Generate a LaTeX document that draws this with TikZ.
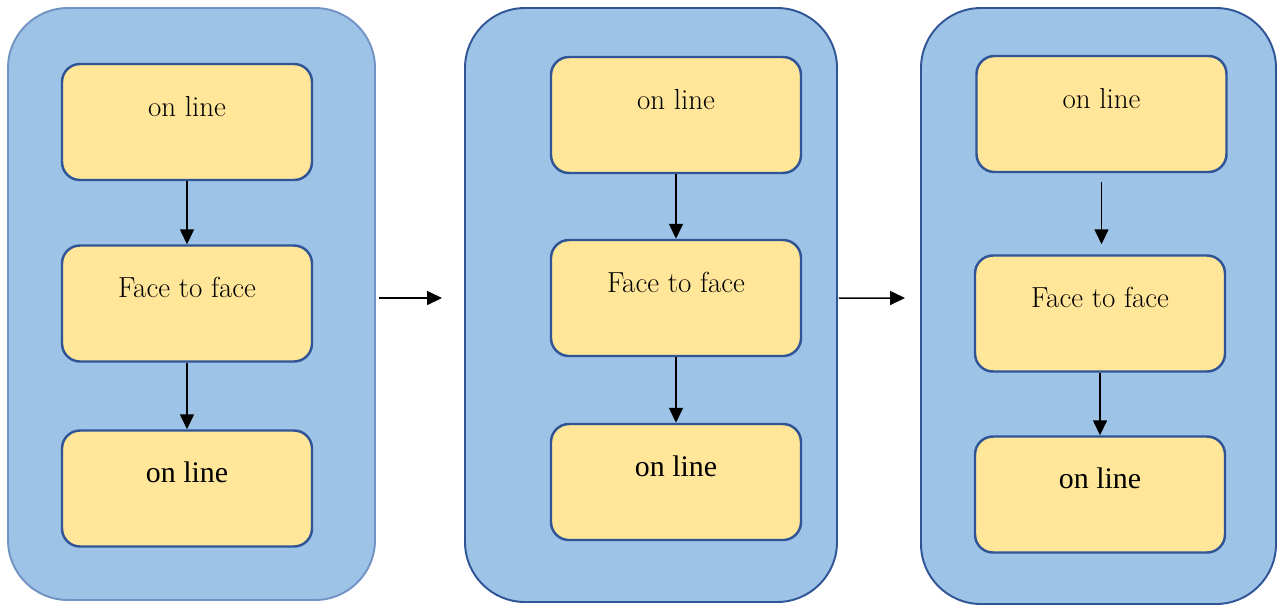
\documentclass[tikz,border=0pt]{standalone}
\usepackage{fontspec}
\usetikzlibrary{arrows.meta}
\newfontfamily\timesfont{Liberation Serif}
\definecolor{panelblue}{HTML}{9DC3E6}
\definecolor{edgeblue}{HTML}{2F5597}
\definecolor{fadeblue}{HTML}{7393C4}
\definecolor{boxyellow}{HTML}{FFE699}
\tikzstyle{panel} = [rectangle, fill=panelblue, draw=edgeblue, line width=1.1pt, rounded corners=1.2cm]
\tikzstyle{stage} = [rectangle, align=center, fill=boxyellow, draw=edgeblue, line width=1.4pt, rounded corners=0.36cm, minimum width=5cm, inner sep=0pt, text height=1.04cm, text depth=1.28cm, font=\fontsize{16.5}{19}\selectfont]

\begin{document}
\begin{tikzpicture}[>={Triangle[length=0.3cm, width=0.28cm]}, line width=0.85pt]
	\useasboundingbox (0,0) rectangle (25.58,-12.14);
	\node[panel, draw=fadeblue, minimum width=7.34cm, minimum height=11.84cm] at (3.83,-6.08) (p1) {};
	\node[panel, minimum width=7.44cm, minimum height=11.88cm] at (13.02,-6.10) (p2) {};
	\node[panel, minimum width=7.10cm, minimum height=11.92cm] at (21.97,-6.12) (p3) {};

	\node[stage] at (3.74,-2.44) (on1) {on line};
	\node[stage] at ([yshift=-3.63cm]on1) (ftf1) {Face to face};
	\node[stage, font=\timesfont\fontsize{17}{20}\selectfont] at ([yshift=-3.70cm]ftf1) (off1) {on line};

	\node[stage] at (13.52,-2.30) (on2) {on line};
	\node[stage] at ([yshift=-3.66cm]on2) (ftf2) {Face to face};
	\node[stage, font=\timesfont\fontsize{17}{20}\selectfont] at ([yshift=-3.68cm]ftf2) (off2) {on line};

	\node[stage] at (22.03,-2.28) (on3) {on line};
	\node[stage] at ([yshift=-3.99cm, xshift=-0.03cm]on3) (ftf3) {Face to face};
	\node[stage, font=\timesfont\fontsize{17}{20}\selectfont] at ([yshift=-3.62cm]ftf3) (off3) {on line};

	\foreach \a\b in {on1/ftf1, ftf1/off1, on2/ftf2, ftf2/off2, ftf3/off3}{
		\draw[->] (\a.south) -- (\b.north);
	}
	\draw[->, shorten <=0.18cm, shorten >=0.2cm] (on3.south) -- (on3.south |- ftf3.north);

	\draw[->, shorten <=0.06cm, shorten >=0.44cm] ([yshift=0.12cm]p1.east) -- ([yshift=0.14cm]p2.west);
	\draw[->, shorten <=0.02cm, shorten >=0.30cm] ([yshift=0.14cm]p2.east) -- ([yshift=0.16cm]p3.west);
\end{tikzpicture}
\end{document}
